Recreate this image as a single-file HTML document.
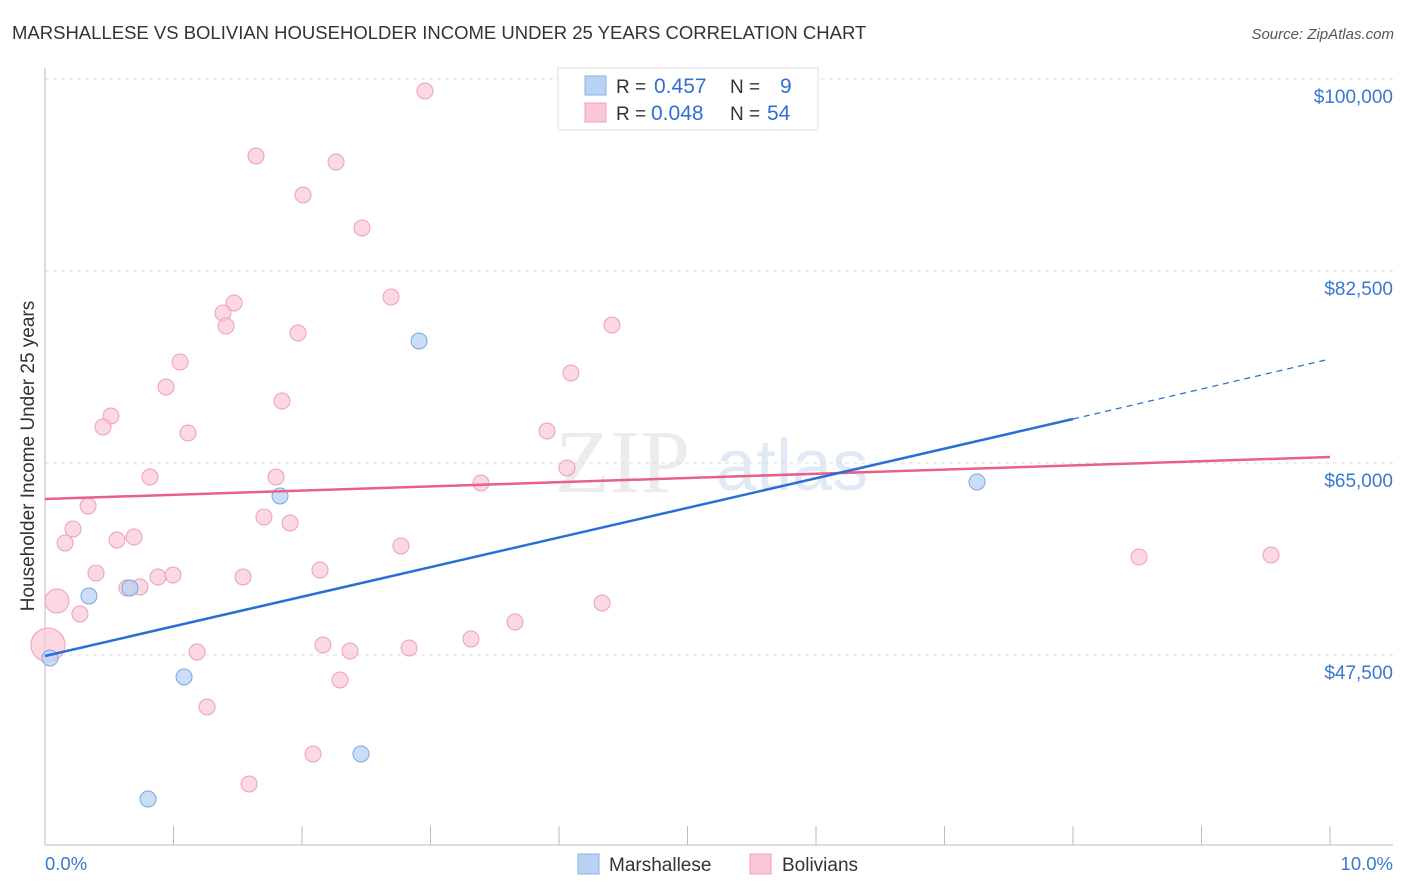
<!DOCTYPE html>
<html><head><meta charset="utf-8"><style>
body{margin:0;background:#fff;font-family:"Liberation Sans",sans-serif;}
svg{display:block}
</style></head><body>
<svg id="chart" width="1406" height="892">
<text x="12" y="39" font-size="18.5" fill="#333">MARSHALLESE VS BOLIVIAN HOUSEHOLDER INCOME UNDER 25 YEARS CORRELATION CHART</text>
<text x="1394" y="39" font-size="15" fill="#555" font-style="italic" text-anchor="end">Source: ZipAtlas.com</text>
<text x="555" y="492" font-size="90" fill="#ececec" font-family="Liberation Serif">ZIP</text>
<text x="716" y="490" font-size="72" fill="#e0eaf6">atlas</text>
<text transform="translate(34,456) rotate(-90)" font-size="19" fill="#333" text-anchor="middle">Householder Income Under 25 years</text>
<g id="grid"></g><g id="marks"></g><g id="trend"></g>
<g>
<rect x="558" y="68" width="260" height="62" fill="#fff" stroke="#ddd"/>
<rect x="585" y="76" width="21" height="19" fill="#b9d3f5" stroke="#8ab0e6"/>
<rect x="585" y="103" width="21" height="19" fill="#f9c7d5" stroke="#eda0b6"/>
<text x="616" y="93" font-size="19" fill="#333">R = <tspan x="654" font-size="21" fill="#2f6fd0">0.457</tspan></text>
<text x="730" y="93" font-size="19" fill="#333">N = <tspan x="780" font-size="21" fill="#2f6fd0">9</tspan></text>
<text x="616" y="120" font-size="19" fill="#333">R = <tspan x="651" font-size="21" fill="#2f6fd0">0.048</tspan></text>
<text x="730" y="120" font-size="19" fill="#333">N = <tspan x="767" font-size="21" fill="#2f6fd0">54</tspan></text>
</g>
<g>
<rect x="578" y="854" width="21" height="20" fill="#b9d3f5" stroke="#8ab0e6"/>
<text x="609" y="871" font-size="19" fill="#333">Marshallese</text>
<rect x="750" y="854" width="21" height="20" fill="#f9c7d5" stroke="#eda0b6"/>
<text x="782" y="871" font-size="19" fill="#333">Bolivians</text>
</g>
<text x="45" y="870" font-size="18.5" fill="#3a78d0">0.0%</text>
<text x="1393" y="870" font-size="18.5" fill="#3a78d0" text-anchor="end">10.0%</text>
</svg>
<script>
const yTicks=[100000,82500,65000,47500];
const yTickLabels=["$100,000","$82,500","$65,000","$47,500"];
const xTicks=[0,1,2,3,4,5,6,7,8,9,10];
const blueX=[0.039,0.342,0.661,0.802,1.082,1.829,2.459,2.911,7.253];
const blueY=[47226,52878,53607,34375,45495,61992,38476,76120,63268];
const pinkX=[2.957,1.642,2.265,2.008,2.467,1.471,2.693,1.385,1.409,1.969,4.412,1.051,4.093,0.942,1.844,0.514,0.451,1.113,3.907,0.817,1.798,4.062,3.393,0.335,0.218,1.704,1.907,0.156,0.560,0.693,2.770,0.397,0.879,0.996,1.541,2.140,0.739,0.638,0.093,0.272,4.335,3.658,0.023,1.183,2.163,2.374,2.833,3.315,2.296,1.261,2.086,1.588,8.514,9.541];
const pinkY=[98906,92982,92435,89427,86419,79583,80130,78672,77487,76849,77578,74206,73203,71927,70651,69284,68281,67734,67917,63724,63724,64544,63177,61081,58984,60078,59531,57708,57982,58255,57435,54974,54609,54792,54609,55247,53698,53607,52422,51237,52239,50508,48411,47773,48411,47864,48138,48958,45221,42760,38476,35742,56432,56615];
const pinkBig={38:12,42:17};
const blueTrend=[[0,47409],[8,69010]], blueTrendDash=[[8,69010],[10,74479]];
const pinkTrend=[[0,61719],[10,65547]];
const NS="http://www.w3.org/2000/svg";
const X=v=>45+v*128.5, Y=v=>79+(100000-v)/17500*192;
function mk(tag,attrs,parent){const e=document.createElementNS(NS,tag);for(const k in attrs)e.setAttribute(k,attrs[k]);parent.appendChild(e);return e;}
const grid=document.getElementById('grid'),marks=document.getElementById('marks'),trend=document.getElementById('trend');
yTicks.forEach((t,i)=>{
 const l=mk('line',{x1:45,x2:1393,y1:Y(t),y2:Y(t),stroke:'#ddd','stroke-dasharray':'4,4'},grid);
 
 
 const tx=mk('text',{x:1393,y:Y(t)+24,'font-size':19,fill:'#3a78d0','text-anchor':'end'},grid);
 tx.textContent=yTickLabels[i];
 
 
});
const ax=mk('line',{x1:45,x2:45,y1:68,y2:845,stroke:'#bbb'},grid);


const bx=mk('line',{x1:45,x2:1393,y1:845,y2:845,stroke:'#bbb'},grid);


xTicks.forEach(t=>{
 const l=mk('line',{x1:X(t),x2:X(t),y1:826,y2:845,stroke:'#bbb'},grid);
 
 
});
pinkX.forEach((x,i)=>{
 const c=mk('circle',{cx:X(x),cy:Y(pinkY[i]),r:pinkBig[i]||8,fill:'#f9c7d5','fill-opacity':0.7,stroke:'#eda0b6'},marks);
 
 
});
blueX.forEach((x,i)=>{
 const c=mk('circle',{cx:X(x),cy:Y(blueY[i]),r:8,fill:'#b9d3f5','fill-opacity':0.75,stroke:'#7aa6e0'},marks);
 
 
});
function ln(p,attrs,name){const l=mk('line',Object.assign({x1:X(p[0][0]),y1:Y(p[0][1]),x2:X(p[1][0]),y2:Y(p[1][1])},attrs),trend);
 
 }
ln(pinkTrend,{stroke:'#e8608a','stroke-width':2.5},'bolivians-trendline');
ln(blueTrend,{stroke:'#2a6fd6','stroke-width':2.5},'marshallese-trendline');
ln(blueTrendDash,{stroke:'#2a6fd6','stroke-width':1.2,'stroke-dasharray':'6,5'},'marshallese-trendline-extension');
</script>
</body></html>
